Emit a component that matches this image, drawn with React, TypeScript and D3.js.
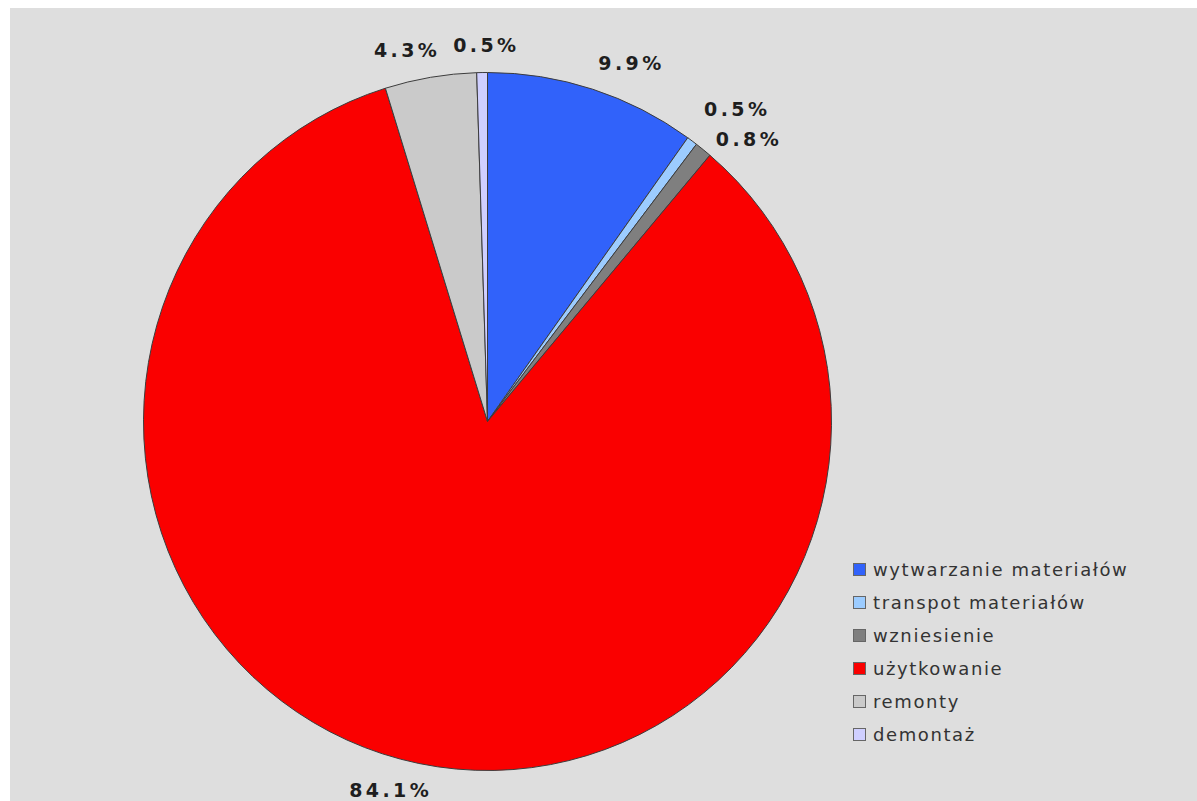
import React, { useEffect, useRef } from 'react';
import * as d3 from 'd3';

// slices, clockwise from 12 o'clock
const categories = [
  'wytwarzanie materiałów',
  'transpot materiałów',
  'wzniesienie',
  'użytkowanie',
  'remonty',
  'demontaż',
];
const shares = [9.9, 0.5, 0.8, 84.1, 4.3, 0.5];
const sliceColors = ['#3162fa', '#9cccff', '#7f7f7f', '#fa0000', '#cacaca', '#cfcfff'];

const W = 1197;
const H = 801;

type LabelBox = { text: string; x0: number; x1: number; y0: number; y1: number };

export default function App() {
  const svgRef = useRef<SVGSVGElement>(null);

  useEffect(() => {
    if (svgRef.current) renderChart(svgRef.current);
  }, []);

  return (
    <svg
      ref={svgRef}
      width={W}
      height={H}
      style={{ position: 'absolute', left: 0, top: 0, display: 'block' }}
    />
  );
}

function renderChart(el: SVGSVGElement) {
  const svg = d3.select(el);
  svg.selectAll('*').remove();

  svg
    .append('rect')
    .attr('x', 10)
    .attr('y', 8)
    .attr('width', W - 10)
    .attr('height', H - 8)
    .attr('fill', '#dedede');

  const cx = 487.5;
  const cy = 421.5;
  const rx = 344;
  const ry = 349;

  const pie = d3.pie<number>().sort(null).value(d => d);
  const arcs = pie(shares);
  const arc = d3.arc<d3.PieArcDatum<number>>().innerRadius(0).outerRadius(rx);

  svg
    .append('g')
    .attr('transform', `translate(${cx},${cy}) scale(1,${ry / rx})`)
    .selectAll('path')
    .data(arcs)
    .join('path')
    .attr('d', arc)
    .attr('fill', (d, i) => sliceColors[i])
    .attr('stroke', '#3c3c3c')
    .attr('stroke-width', 1)
    .attr('vector-effect', 'non-scaling-stroke')
    .attr('stroke-linejoin', 'round');

  // percentage labels outside the pie
  const labelG = svg
    .append('g')
    .attr('font-family', '"DejaVu Sans", Verdana, sans-serif')
    .attr('font-weight', 'bold')
    .attr('font-size', 19)
    .attr('letter-spacing', 3.4)
    .attr('fill', '#1e1e1e');

  const capH = 14;
  const lr = 364;
  const boxes: LabelBox[] = arcs.map((a, i) => {
    const mid = (a.startAngle + a.endAngle) / 2;
    const px = cx + lr * Math.sin(mid);
    const py = cy - lr * (ry / rx) * Math.cos(mid);
    const text = d3.format('.1f')(shares[i]) + '%';
    const probe = labelG.append('text').text(text);
    const w = (probe.node() as SVGTextElement).getComputedTextLength() - 3;
    probe.remove();
    const fx = Math.max(0, Math.min(1, 0.5 - (0.5 * Math.sin(mid)) / 0.31));
    const fy = (1 + Math.cos(mid)) / 2;
    const x0 = px - fx * w;
    const y0 = py - fy * capH;
    return { text, x0, x1: x0 + w, y0, y1: y0 + capH };
  });

  // push overlapping labels apart
  const pad = 16;
  for (let it = 0; it < 30; it++) {
    for (let i = 0; i < boxes.length; i++) {
      for (let j = i + 1; j < boxes.length; j++) {
        const a = boxes[i];
        const b = boxes[j];
        const ox = Math.min(a.x1, b.x1) - Math.max(a.x0, b.x0) + pad;
        const oy = Math.min(a.y1, b.y1) - Math.max(a.y0, b.y0) + pad;
        if (ox <= 0 || oy <= 0) continue;
        if (ox < oy) {
          const s = (a.x0 + a.x1 < b.x0 + b.x1 ? -1 : 1) * ox / 2;
          a.x0 += s; a.x1 += s; b.x0 -= s; b.x1 -= s;
        } else {
          const s = (a.y0 + a.y1 < b.y0 + b.y1 ? -1 : 1) * oy / 2;
          a.y0 += s; a.y1 += s; b.y0 -= s; b.y1 -= s;
        }
      }
    }
  }

  labelG
    .selectAll('text')
    .data(boxes)
    .join('text')
    .attr('x', d => d.x0)
    .attr('y', d => d.y1)
    .text(d => d.text);

  // legend
  svg
    .append('clipPath')
    .attr('id', 'legend-clip')
    .append('rect')
    .attr('x', 840)
    .attr('y', 540)
    .attr('width', 288)
    .attr('height', 220);

  const rowY = d3
    .scalePoint<string>()
    .domain(categories)
    .range([576, 741]);

  const legend = svg
    .append('g')
    .attr('clip-path', 'url(#legend-clip)')
    .selectAll('g')
    .data(categories)
    .join('g')
    .attr('transform', d => `translate(853,${rowY(d)})`);

  legend
    .append('rect')
    .attr('x', 0.5)
    .attr('y', -12.5)
    .attr('width', 12)
    .attr('height', 12)
    .attr('fill', (d, i) => sliceColors[i])
    .attr('stroke', '#666')
    .attr('stroke-width', 1);

  legend
    .append('text')
    .attr('x', 20)
    .attr('y', 0)
    .attr('font-family', '"DejaVu Sans", Verdana, sans-serif')
    .attr('font-size', 18)
    .attr('letter-spacing', 1.6)
    .attr('fill', '#333')
    .text(d => d);
}
